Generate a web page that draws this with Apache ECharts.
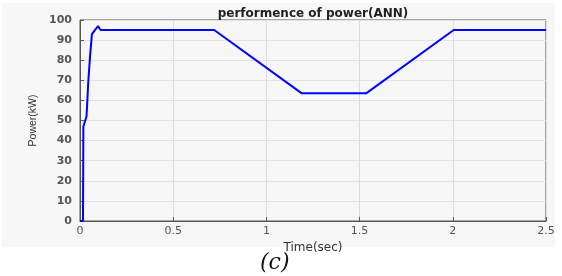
<!DOCTYPE html>
<html>
<head>
<meta charset="utf-8">
<script src="https://cdn.jsdelivr.net/npm/echarts@6/dist/echarts.min.js"></script>
<style>
html, body { margin: 0; padding: 0; background: #fff; }
#power { width: 562px; height: 276px; }
</style>
</head>
<body>
<div id="power"></div>
<script>
// time (sec) and power (kW)
var timeVals  = [0, 0.016, 0.018, 0.027, 0.035, 0.045, 0.054, 0.064, 0.08, 0.097, 0.11, 0.72, 1.19, 1.535, 2.005, 2.5];
var powerVals = [0, 0,     47,    47,    52,    70,    82,    93,    95,   97,    95,   95,   63.5, 63.5,  95,    95];
var xTicks = [0, 0.5, 1, 1.5, 2, 2.5];

var pts = [];
timeVals.forEach(function(t, i) {
	pts.push([t, powerVals[i]]);
});

var dom = document.getElementById("power");
var myChart = echarts.init(dom);
var option = null;

option = {
	backgroundColor: '#fff',
	animation: false,
	graphic: [{
		type: 'rect',
		z: -10,
		shape: { x: 2, y: 3, width: 553, height: 244 },
		style: { fill: '#f7f7f7' }
	}, {
		type: 'text',
		left: 260,
		top: 252,
		style: {
			text: '(c)',
			font: 'italic 22px "DejaVu Serif", serif',
			fill: '#111'
		}
	}],
	title: {
		text: 'performence of power(ANN)',
		left: 308,
		top: 3,
		textAlign: 'center',
		textStyle: {
			fontSize: 12,
			fontWeight: 'bold',
			color: '#222',
			fontFamily: 'DejaVu Sans'
		}
	},
	grid: {
		left: 80,
		right: 16,
		top: 20,
		bottom: 55,
		show: true,
		borderColor: '#555',
		borderWidth: 1,
		backgroundColor: '#f7f7f7'
	},
	xAxis: {
		type: 'value',
		min: 0,
		max: 2.5,
		interval: 0.5,
		name: 'Time(sec)',
		nameLocation: 'middle',
		nameGap: 7,
		nameTextStyle: { color: '#333', fontSize: 12, fontFamily: 'DejaVu Sans' },
		axisLine: { lineStyle: { color: '#555' } },
		axisTick: { inside: true, length: 4, lineStyle: { color: '#555' } },
		axisLabel: {
			color: '#555',
			fontSize: 11,
			margin: 5,
			fontFamily: 'DejaVu Sans',
			formatter: function(v) { return String(v); }
		},
		splitLine: { lineStyle: { color: '#dcdcdc' } }
	},
	yAxis: {
		type: 'value',
		min: 0,
		max: 100,
		interval: 10,
		name: 'Power(kW)',
		nameLocation: 'middle',
		nameGap: 31,
		nameTextStyle: { color: '#333', fontSize: 10.5, fontFamily: 'Liberation Sans' },
		axisLine: { show: true, lineStyle: { color: '#555' } },
		axisTick: { inside: true, length: 4, lineStyle: { color: '#555' } },
		axisLabel: { color: '#555', fontSize: 11, margin: 8, fontFamily: 'DejaVu Sans', fontWeight: 'bold' },
		splitLine: { lineStyle: { color: '#e2e2e2' } }
	},
	series: [{
		type: 'line',
		data: pts,
		symbol: 'none',
		lineStyle: { width: 2, color: '#0000ff' },
		color: '#0000ff'
	}]
};

if (option && typeof option === "object") {
	myChart.setOption(option, true);
}
</script>
</body>
</html>
